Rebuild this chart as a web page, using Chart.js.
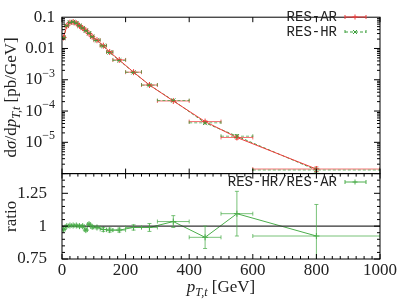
<!DOCTYPE html>
<html>
<head>
<meta charset="utf-8">
<script src="https://cdn.jsdelivr.net/npm/chart.js"></script>
<style>
html, body { margin: 0; padding: 0; background: #fff; }
#wrap { width: 399px; height: 301px; }
</style>
</head>
<body>
<div id="wrap"><canvas id="chart"></canvas></div>
<script>
// bins in pT [GeV]
const binLo = [0, 10, 20, 30, 40, 50, 60, 70, 80, 90, 100, 120, 140, 160, 200, 250, 300, 400, 500, 600];
const binHi = [10, 20, 30, 40, 50, 60, 70, 80, 90, 100, 120, 140, 160, 200, 250, 300, 400, 500, 600, 1000];
const ptMid = [5, 15, 25, 35, 45, 55, 65, 75, 85, 95, 110, 130, 150, 180, 225, 275, 350, 450, 550, 800];

// d sigma / d pT [pb/GeV]
const resAR = [0.0225, 0.053, 0.067, 0.070, 0.064, 0.053, 0.045, 0.038, 0.030, 0.0238, 0.0184, 0.0123, 0.0077, 0.0043, 0.00175, 0.00068, 0.00021, 4.6e-5, 1.43e-5, 1.4e-6];
const resHR = [0.0219, 0.053, 0.0673, 0.0704, 0.0643, 0.053, 0.045, 0.0369, 0.0305, 0.0237, 0.0182, 0.0120, 0.00747, 0.00417, 0.00173, 0.000673, 0.000217, 4.2e-5, 1.57e-5, 1.3e-6];
const relErr = [0.006, 0.004, 0.004, 0.004, 0.004, 0.004, 0.005, 0.006, 0.006, 0.007, 0.007, 0.01, 0.01, 0.01, 0.014, 0.02, 0.03, 0.06, 0.12, 0.17];

// RES-HR / RES-AR
const ratio = [0.975, 1.0, 1.005, 1.005, 1.005, 1.0, 1.0, 0.97, 1.015, 0.995, 0.99, 0.975, 0.97, 0.97, 0.99, 0.99, 1.035, 0.915, 1.095, 0.925];
const ratioErr = [0.01, 0.006, 0.005, 0.005, 0.005, 0.006, 0.007, 0.008, 0.009, 0.01, 0.01, 0.015, 0.015, 0.015, 0.02, 0.03, 0.045, 0.085, 0.17, 0.24];

const xTicks = [0, 200, 400, 600, 800, 1000];
const ratioLabels = [0.75, 1, 1.25];

const RED = '#f03c3c', GREEN = '#3c9f3c', RGREEN = '#4cae4c';
const SERIF = '"Liberation Serif", "DejaVu Serif", serif';
const MONO = '"Liberation Mono", "DejaVu Sans Mono", monospace';

const pts = ys => ptMid.map((x, i) => ({ x: x, y: ys[i] }));

const errorBars = {
    id: 'errorBars',
    afterDatasetsDraw(chart) {
        const ctx = chart.ctx, xs = chart.scales.x;
        chart.data.datasets.forEach(ds => {
            if (!ds.errs) return;
            const ys = chart.scales[ds.yAxisID];
            ctx.save();
            ctx.beginPath();
            ctx.rect(xs.left, ys.top, xs.right - xs.left, ys.bottom - ys.top);
            ctx.clip();
            ctx.strokeStyle = ds.errColor;
            ctx.lineWidth = 1;
            ctx.setLineDash(ds.borderDash || []);
            ds.data.forEach((p, i) => {
                const e = ds.rel ? p.y * ds.errs[i] : ds.errs[i];
                const x0 = xs.getPixelForValue(binLo[i]), x1 = xs.getPixelForValue(binHi[i]);
                const xc = xs.getPixelForValue(p.x);
                const y = ys.getPixelForValue(p.y);
                const yl = ys.getPixelForValue(p.y - e), yh = ys.getPixelForValue(p.y + e);
                ctx.beginPath();
                ctx.moveTo(x0, y); ctx.lineTo(x1, y);
                ctx.moveTo(x0, y - 2); ctx.lineTo(x0, y + 2);
                ctx.moveTo(x1, y - 2); ctx.lineTo(x1, y + 2);
                ctx.moveTo(xc, yl); ctx.lineTo(xc, yh);
                ctx.moveTo(xc - 2, yl); ctx.lineTo(xc + 2, yl);
                ctx.moveTo(xc - 2, yh); ctx.lineTo(xc + 2, yh);
                ctx.stroke();
            });
            ctx.restore();
        });
    }
};

function drawRich(ctx, parts, x, y, align) {
    let w = 0;
    parts.forEach(p => { ctx.font = p.f; w += ctx.measureText(p.t).width; });
    let cx = align === 'center' ? x - w / 2 : (align === 'right' ? x - w : x);
    ctx.textAlign = 'left';
    parts.forEach(p => {
        ctx.font = p.f;
        ctx.fillText(p.t, cx, y + (p.dy || 0));
        cx += ctx.measureText(p.t).width;
    });
}

function legendRow(ctx, text, y, color, dash, style) {
    ctx.font = '14px ' + MONO;
    ctx.fillStyle = '#222';
    ctx.textAlign = 'right';
    ctx.textBaseline = 'middle';
    ctx.fillText(text, 337, y);
    ctx.strokeStyle = color;
    ctx.lineWidth = 1;
    ctx.setLineDash(dash);
    ctx.beginPath();
    ctx.moveTo(345, y); ctx.lineTo(366, y);
    ctx.moveTo(345, y - 2); ctx.lineTo(345, y + 2);
    ctx.moveTo(366, y - 2); ctx.lineTo(366, y + 2);
    ctx.stroke();
    ctx.setLineDash([]);
    ctx.beginPath();
    if (style === 'x') {
        ctx.moveTo(353, y - 2); ctx.lineTo(357, y + 2);
        ctx.moveTo(353, y + 2); ctx.lineTo(357, y - 2);
    } else {
        ctx.moveTo(352.5, y); ctx.lineTo(357.5, y);
        ctx.moveTo(355, y - 2.5); ctx.lineTo(355, y + 2.5);
    }
    ctx.stroke();
}

const frame = {
    id: 'frame',
    afterDraw(chart) {
        const ctx = chart.ctx, xs = chart.scales.x, yt = chart.scales.y, yr = chart.scales.yr;
        ctx.save();
        ctx.strokeStyle = '#000';
        ctx.lineWidth = 1;
        ctx.setLineDash([]);
        const L = xs.left, R = xs.right;
        [yt, yr].forEach(ys => {
            ctx.strokeRect(L, ys.top, R - L, ys.bottom - ys.top);
            ctx.beginPath();
            for (let v = 0; v <= 1000; v += 25) {
                const major = v % 200 === 0;
                if (!major && ys === yt) continue;
                const x = xs.getPixelForValue(v);
                const len = major ? 5 : 3;
                ctx.moveTo(x, ys.bottom); ctx.lineTo(x, ys.bottom - len);
                ctx.moveTo(x, ys.top); ctx.lineTo(x, ys.top + len);
            }
            ctx.stroke();
        });
        ctx.beginPath();
        for (let k = -6; k <= -2; k++) {
            for (let m = 1; m <= 9; m++) {
                const v = m * Math.pow(10, k);
                const y = yt.getPixelForValue(v);
                const len = m === 1 ? 6 : 3;
                ctx.moveTo(L, y); ctx.lineTo(L + len, y);
                ctx.moveTo(R, y); ctx.lineTo(R - len, y);
            }
        }
        for (let i = 0; i <= 13; i++) {
            const v = 0.75 + i * 0.05;
            const y = yr.getPixelForValue(v);
            const len = i % 5 === 0 ? 6 : 3;
            ctx.moveTo(L, y); ctx.lineTo(L + len, y);
            ctx.moveTo(R, y); ctx.lineTo(R - len, y);
        }
        ctx.stroke();

        // y labels of the log panel
        ctx.fillStyle = '#222';
        ctx.textBaseline = 'middle';
        const big = '17px ' + SERIF, sup = '12px ' + SERIF;
        [[0.1, '0.1'], [0.01, '0.01']].forEach(([v, t]) => {
            ctx.font = big; ctx.textAlign = 'right';
            ctx.fillText(t, L - 7, yt.getPixelForValue(v));
        });
        [-3, -4, -5].forEach(k => {
            drawRich(ctx, [{ t: '10', f: big }, { t: '\u2212' + (-k), f: sup, dy: -6 }], L - 7, yt.getPixelForValue(Math.pow(10, k)), 'right');
        });

        // axis titles
        const it = 'italic 17px ' + SERIF, sub = 'italic 12px ' + SERIF;
        ctx.save();
        ctx.translate(16, (yt.top + yt.bottom) / 2 + 2);
        ctx.rotate(-Math.PI / 2);
        ctx.textBaseline = 'alphabetic';
        drawRich(ctx, [
            { t: 'd', f: big }, { t: '\u03c3', f: it }, { t: '/d', f: big }, { t: 'p', f: it },
            { t: 'T,t', f: sub, dy: 4 }, { t: ' [pb/GeV]', f: big }
        ], 0, 0, 'center');
        ctx.restore();
        ctx.save();
        ctx.translate(16, (yr.top + yr.bottom) / 2);
        ctx.rotate(-Math.PI / 2);
        ctx.textBaseline = 'alphabetic';
        drawRich(ctx, [{ t: 'ratio', f: big }], 0, 0, 'center');
        ctx.restore();
        ctx.textBaseline = 'alphabetic';
        drawRich(ctx, [
            { t: 'p', f: it }, { t: 'T,t', f: sub, dy: 4 }, { t: ' [GeV]', f: big }
        ], (L + R) / 2, 292, 'center');

        legendRow(ctx, 'RES-AR', 17, RED, [], '+');
        legendRow(ctx, 'RES-HR', 32, GREEN, [3, 2], 'x');
        legendRow(ctx, 'RES-HR/RES-AR', 182, RGREEN, [], '+');
        ctx.restore();
    }
};

new Chart(document.getElementById('chart'), {
    type: 'line',
    data: {
        datasets: [
            {
                label: 'RES-AR', data: pts(resAR), yAxisID: 'y', errs: relErr, rel: true,
                borderColor: RED, errColor: 'rgba(240,60,60,0.75)', borderWidth: 1,
                pointStyle: 'cross', pointRadius: 3, pointBorderWidth: 1, pointBorderColor: RED
            },
            {
                label: 'RES-HR', data: pts(resHR), yAxisID: 'y', errs: relErr, rel: true,
                borderColor: GREEN, errColor: 'rgba(60,160,60,0.7)', borderWidth: 1, borderDash: [3, 2],
                pointStyle: 'crossRot', pointRadius: 3, pointBorderWidth: 1, pointBorderColor: GREEN
            },
            {
                label: 'one', data: [{ x: 0, y: 1 }, { x: 1000, y: 1 }], yAxisID: 'yr',
                borderColor: '#333', borderWidth: 1.3, pointRadius: 0
            },
            {
                label: 'RES-HR/RES-AR', data: pts(ratio), yAxisID: 'yr', errs: ratioErr,
                borderColor: RGREEN, errColor: 'rgba(76,174,76,0.75)', borderWidth: 1,
                pointStyle: 'cross', pointRadius: 3, pointBorderWidth: 1, pointBorderColor: RGREEN
            }
        ]
    },
    options: {
        responsive: true,
        maintainAspectRatio: false,
        animation: false,
        layout: { padding: { top: 7, right: 19, bottom: 0, left: 0 } },
        plugins: { legend: { display: false }, tooltip: { enabled: false } },
        scales: {
            x: {
                type: 'linear', min: 0, max: 1000,
                afterBuildTicks: s => { s.ticks = xTicks.map(v => ({ value: v })); },
                afterFit: s => { s.height = 42; },
                grid: { display: false, drawTicks: false },
                border: { display: false },
                ticks: { color: '#222', font: { family: SERIF, size: 17 }, padding: 1, maxRotation: 0,
                         callback: v => String(v) }
            },
            yr: {
                type: 'linear', min: 0.75, max: 1.4,
                position: 'left', stack: 'panels', stackWeight: 89,
                afterBuildTicks: s => { s.ticks = ratioLabels.map(v => ({ value: v })); },
                afterFit: s => { s.width = 62; },
                grid: { display: false },
                border: { display: false },
                ticks: { color: '#222', font: { family: SERIF, size: 17 }, padding: 7,
                         callback: v => String(v) }
            },
            y: {
                type: 'logarithmic', min: 1e-6, max: 0.1,
                position: 'left', stack: 'panels', stackWeight: 163,
                afterFit: s => { s.width = 62; },
                grid: { display: false },
                border: { display: false },
                ticks: { display: false }
            }
        }
    },
    plugins: [errorBars, frame]
});
</script>
</body>
</html>
